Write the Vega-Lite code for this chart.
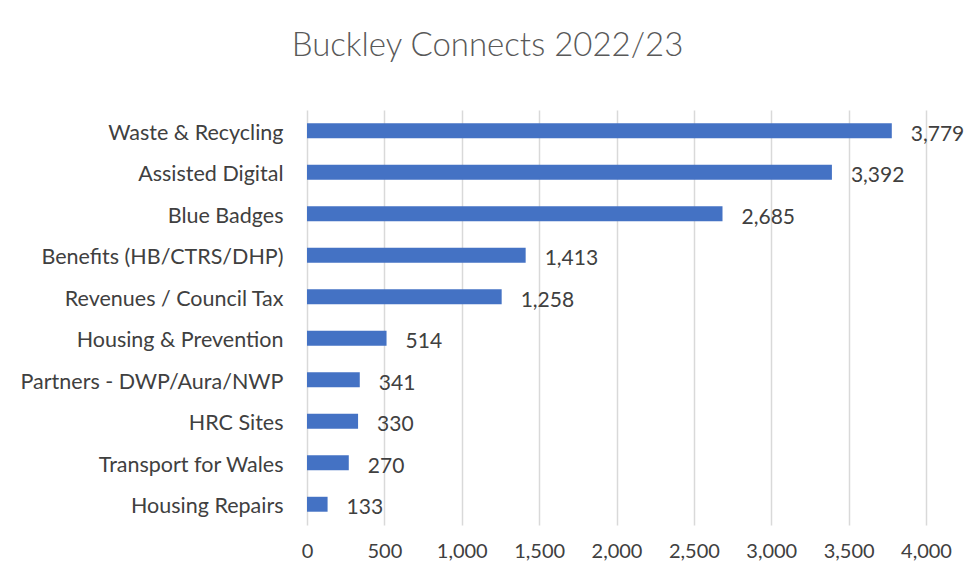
{
  "$schema": "https://vega.github.io/schema/vega-lite/v6.json",
  "width": 619,
  "height": 415,
  "autosize": "none",
  "padding": {"left": 307, "top": 110, "right": 41, "bottom": 52},
  "background": "white",
  "title": {
    "text": "Buckley Connects 2022/23",
    "anchor": "middle",
    "frame": "group",
    "dx": -129,
    "offset": 47,
    "font": "Lato",
    "fontWeight": 300,
    "fontSize": 33,
    "color": "#595959"
  },
  "data": {
    "values": [
      {"category": "Waste & Recycling", "value": 3779},
      {"category": "Assisted Digital", "value": 3392},
      {"category": "Blue Badges", "value": 2685},
      {"category": "Benefits (HB/CTRS/DHP)", "value": 1413},
      {"category": "Revenues / Council Tax", "value": 1258},
      {"category": "Housing & Prevention", "value": 514},
      {"category": "Partners - DWP/Aura/NWP", "value": 341},
      {"category": "HRC Sites", "value": 330},
      {"category": "Transport for Wales", "value": 270},
      {"category": "Housing Repairs", "value": 133}
    ]
  },
  "encoding": {
    "y": {
      "field": "category",
      "type": "nominal",
      "sort": null,
      "scale": {"paddingInner": 0.64, "paddingOuter": 0.32},
      "axis": {
        "title": null,
        "ticks": false,
        "domain": false,
        "labelPadding": 24,
        "labelOffset": 3,
        "labelFont": "Lato",
        "labelFontSize": 21.5,
        "labelColor": "#404040",
        "labelLimit": 400
      }
    },
    "x": {
      "field": "value",
      "type": "quantitative",
      "scale": {"domain": [0, 4000], "nice": false},
      "axis": {
        "title": null,
        "values": [0, 500, 1000, 1500, 2000, 2500, 3000, 3500, 4000],
        "format": ",.0f",
        "ticks": false,
        "domain": false,
        "labelOverlap": false,
        "labelFlush": false,
        "labelPadding": 16,
        "labelFont": "Lato",
        "labelFontSize": 20,
        "labelColor": "#404040",
        "gridColor": "#d9d9d9",
        "gridWidth": 1.5
      }
    }
  },
  "layer": [
    {"mark": {"type": "bar", "color": "#4472C4"}},
    {
      "mark": {"type": "text", "align": "left", "baseline": "middle", "dx": 19, "dy": 4, "font": "Lato", "fontSize": 21, "color": "#404040"},
      "encoding": {"text": {"field": "value", "type": "quantitative", "format": ",.0f"}}
    }
  ],
  "config": {"view": {"stroke": null}}
}
